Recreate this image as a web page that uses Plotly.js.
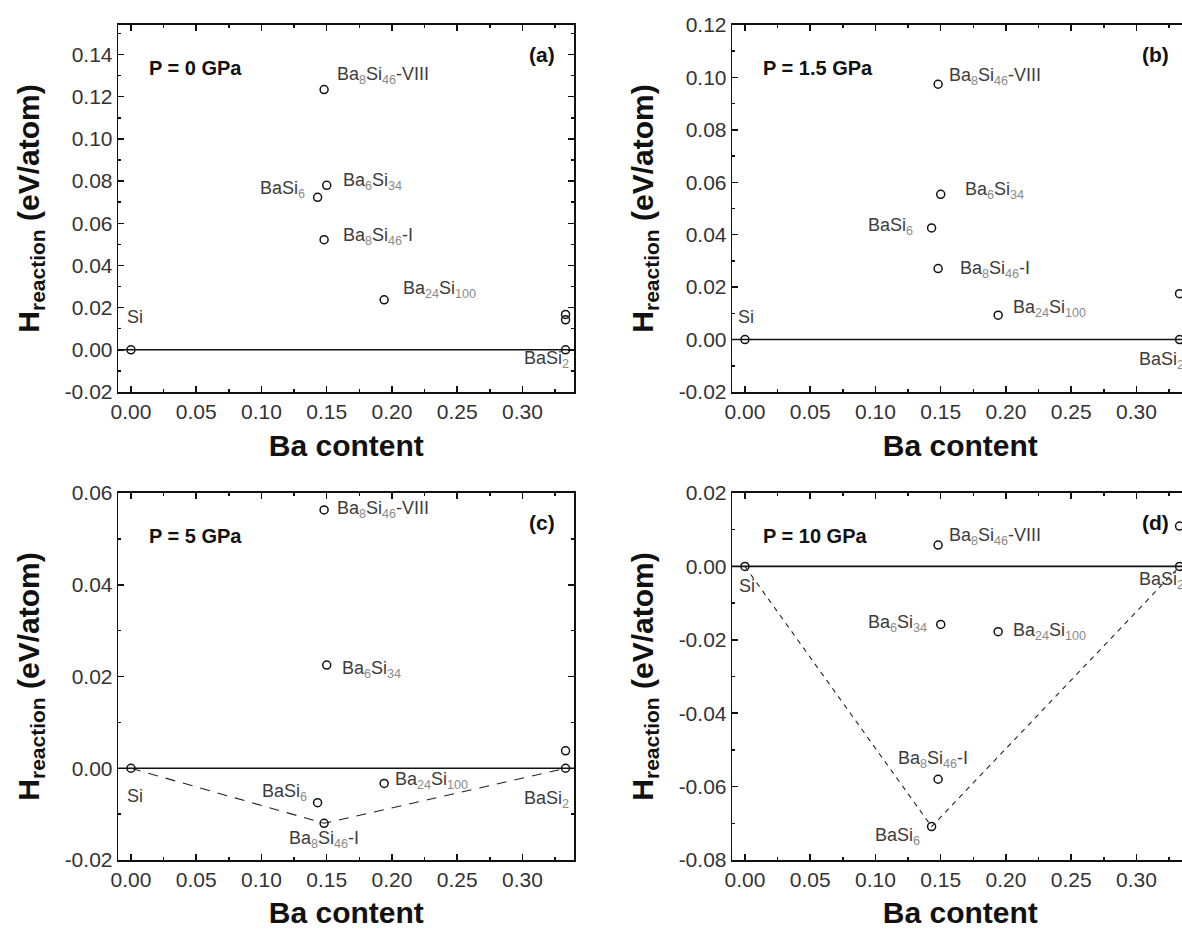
<!DOCTYPE html>
<html>
<head>
<meta charset="utf-8">
<script src="https://cdn.plot.ly/plotly-3.0.1.min.js"></script>
<style>
html,body{margin:0;padding:0;overflow:hidden;background:#fff;}
#chart{width:1200px;height:929px;}
</style>
</head>
<body>
<div id="chart"></div>
<script>
// ---------- data ----------
const compounds = ['Si','BaSi6','Ba6Si34','Ba8Si46-I','Ba8Si46-VIII','Ba24Si100','BaSi2'];
const compoundLabels = ['Si','BaSi<sub>6</sub>','Ba<sub>6</sub>Si<sub>34</sub>','Ba<sub>8</sub>Si<sub>46</sub>-I','Ba<sub>8</sub>Si<sub>46</sub>-VIII','Ba<sub>24</sub>Si<sub>100</sub>','BaSi<sub>2</sub>'];
const baContent = [0.000, 0.143, 0.150, 0.148, 0.148, 0.194, 0.333];

const hP0   = [0, 0.0723, 0.0780, 0.0522, 0.1234, 0.0237, 0];
const hP1_5 = [0, 0.0426, 0.0554, 0.0271, 0.0974, 0.0093, 0];
const hP5   = [0, -0.0075, 0.0225, -0.0120, 0.0563, -0.0033, 0];
const hP10  = [0, -0.0709, -0.0158, -0.0580, 0.0058, -0.0178, 0];

// other BaSi2 polymorphs (x = BaSi2 content)
const otherBaSi2P0   = [0.0168, 0.0142];
const otherBaSi2P1_5 = [0.0175];
const otherBaSi2P5   = [0.0038];
const otherBaSi2P10  = [0.0110];

// convex hull vertices
const hullP5  = ['Si','Ba8Si46-I','BaSi2'];
const hullP10 = ['Si','BaSi6','BaSi2'];

const pressures = ['P = 0 GPa','P = 1.5 GPa','P = 5 GPa','P = 10 GPa'];
const panelTags = ['(a)','(b)','(c)','(d)'];

const xTickVals = [0,0.05,0.10,0.15,0.20,0.25,0.30];
const xTickText = ['0.00','0.05','0.10','0.15','0.20','0.25','0.30'];
const yTickValsA = [-0.02,0,0.02,0.04,0.06,0.08,0.10,0.12,0.14];
const yTickTextA = ['-0.02','0.00','0.02','0.04','0.06','0.08','0.10','0.12','0.14'];
const yTickValsB = [-0.02,0,0.02,0.04,0.06,0.08,0.10,0.12];
const yTickTextB = ['-0.02','0.00','0.02','0.04','0.06','0.08','0.10','0.12'];
const yTickValsC = [-0.02,0,0.02,0.04,0.06];
const yTickTextC = ['-0.02','0.00','0.02','0.04','0.06'];
const yTickValsD = [-0.08,-0.06,-0.04,-0.02,0,0.02];
const yTickTextD = ['-0.08','-0.06','-0.04','-0.02','0.00','0.02'];

// ---------- styling ----------
const FONT = 'Liberation Sans, Arial, sans-serif';
const labelColor = '#3c3c3c';
const subColor = '#8a8a8a';

// label placement per panel: [xanchor, xshift, yshift]
const labelPos = [
  {'Si':['left',-6,33],'BaSi6':['right',-11,8],'Ba6Si34':['left',14,4],'Ba8Si46-I':['left',17,3],'Ba8Si46-VIII':['left',11,14],'Ba24Si100':['left',17,10],'BaSi2':['right',5,-10]},
  {'Si':['left',-9,23],'BaSi6':['right',-17,1],'Ba6Si34':['left',22,4],'Ba8Si46-I':['left',20,-1],'Ba8Si46-VIII':['left',9,8],'Ba24Si100':['left',13,7],'BaSi2':['right',6,-21]},
  {'Si':['left',-6,-28],'BaSi6':['right',-9,10],'Ba6Si34':['left',13,-4],'Ba8Si46-I':['center',0,-16],'Ba8Si46-VIII':['left',11,0],'Ba24Si100':['left',9,3],'BaSi2':['right',5,-31]},
  {'Si':['left',-8,-20],'BaSi6':['right',-10,-10],'Ba6Si34':['right',-12,1],'Ba8Si46-I':['center',-5,20],'Ba8Si46-VIII':['left',9,9],'Ba24Si100':['left',13,0],'BaSi2':['right',6,-14]}
];

const panels = [
  {h:hP0, other:otherBaSi2P0, hull:null, yr:[-0.02,0.154], tv:yTickValsA, tt:yTickTextA},
  {h:hP1_5, other:otherBaSi2P1_5, hull:null, yr:[-0.02,0.12], tv:yTickValsB, tt:yTickTextB},
  {h:hP5, other:otherBaSi2P5, hull:hullP5, yr:[-0.02,0.06], tv:yTickValsC, tt:yTickTextC},
  {h:hP10, other:otherBaSi2P10, hull:hullP10, yr:[-0.08,0.02], tv:yTickValsD, tt:yTickTextD}
];

const W = 1200, H = 929;
const xDom = [[118.3/W, 574.3/W],[732.3/W, 1188.3/W]];
const yDom = [[(H-392)/H, (H-25)/H],[(H-860)/H, (H-493)/H]];
const dashStyle = ['', '', '10px,8px', '5px,5px'];

function colorSubs(s){
  return s.replace(/<sub>(.*?)<\/sub>/g, '<sub><span style="color:'+subColor+'">$1</span></sub>');
}

const traces = [];
const annotations = [];
const shapes = [];
const layout = {
  width: W, height: H,
  margin:{l:0,r:0,t:0,b:0},
  paper_bgcolor:'#fff', plot_bgcolor:'#fff',
  showlegend:false,
  font:{family:FONT, color:'#222'}
};

panels.forEach((p, i) => {
  const n = i+1;
  const xa = n===1 ? 'x' : 'x'+n;
  const ya = n===1 ? 'y' : 'y'+n;
  const col = i % 2, row = Math.floor(i/2);
  const axCommon = {
    showline:true, linecolor:'#111', linewidth:1.6, mirror:'allticks',
    ticks:'inside', ticklen:6, tickwidth:1.5, tickcolor:'#111',
    showgrid:false, zeroline:false,
    tickfont:{family:FONT, size:21, color:'#333'}
  };
  layout[(n===1?'xaxis':'xaxis'+n)] = Object.assign({}, axCommon, {
    domain:xDom[col], anchor:ya, range:[-0.0097,0.3397],
    tickmode:'array', tickvals:xTickVals, ticktext:xTickText,
    minor:{tickmode:'linear', tick0:0, dtick:0.025, ticks:'inside', ticklen:3, tickwidth:1.5, tickcolor:'#111'},
    title:{text:'<b>Ba content</b>', font:{family:FONT, size:30, color:'#111'}, standoff:13}
  });
  layout[(n===1?'yaxis':'yaxis'+n)] = Object.assign({}, axCommon, {
    domain:yDom[row], anchor:xa, range:p.yr,
    tickmode:'array', tickvals:p.tv, ticktext:p.tt,
    minor:{tickmode:'linear', tick0:0, dtick:0.01, ticks:'inside', ticklen:3, tickwidth:1.5, tickcolor:'#111'},
    title:{text:'<b>H<sub>reaction</sub> (eV/atom)</b>', font:{family:FONT, size:30, color:'#111'}, standoff:16}
  });

  // zero reference line
  shapes.push({type:'line', xref:xa+' domain', yref:ya, x0:0, x1:1, y0:0, y1:0, line:{color:'#111', width:1.6}, layer:'below'});

  // convex hull
  if(p.hull){
    const hx = p.hull.map(c => baContent[compounds.indexOf(c)]);
    const hy = p.hull.map(c => p.h[compounds.indexOf(c)]);
    traces.push({type:'scatter', mode:'lines', x:hx, y:hy, xaxis:xa, yaxis:ya,
      line:{color:'#222', width:1.1, dash:dashStyle[i]}, hoverinfo:'skip'});
  }

  // compounds
  traces.push({type:'scatter', mode:'markers', x:baContent, y:p.h, xaxis:xa, yaxis:ya,
    marker:{symbol:'circle-open', size:8, color:'#111', line:{width:1.5, color:'#111'}}, name:pressures[i]});
  // other BaSi2 polymorphs
  traces.push({type:'scatter', mode:'markers', x:p.other.map(() => baContent[compounds.indexOf('BaSi2')]), y:p.other, xaxis:xa, yaxis:ya,
    marker:{symbol:'circle-open', size:8, color:'#111', line:{width:1.5, color:'#111'}}, cliponaxis:false});

  // labels
  compounds.forEach((c, k) => {
    const pos = labelPos[i][c];
    annotations.push({xref:xa, yref:ya, x:baContent[k], y:p.h[k], text:colorSubs(compoundLabels[k]),
      showarrow:false, xanchor:pos[0], yanchor:'middle', xshift:pos[1], yshift:pos[2],
      font:{family:FONT, size:18, color:labelColor}});
  });

  // pressure label and panel tag
  annotations.push({xref:xa+' domain', yref:ya+' domain', x:0.062, y:0.884, xanchor:'left', yanchor:'middle',
    text:'<b>'+pressures[i]+'</b>', showarrow:false, font:{family:FONT, size:20, color:'#111'}});
  annotations.push({xref:xa+' domain', yref:ya+' domain', x:0.963, y:0.92, xanchor:'right', yanchor:'middle',
    text:'<b>'+panelTags[i]+'</b>', showarrow:false, font:{family:FONT, size:21, color:'#111'}});
});

layout.annotations = annotations;
layout.shapes = shapes;

Plotly.newPlot('chart', traces, layout, {staticPlot:true, displayModeBar:false});
</script>
</body>
</html>
